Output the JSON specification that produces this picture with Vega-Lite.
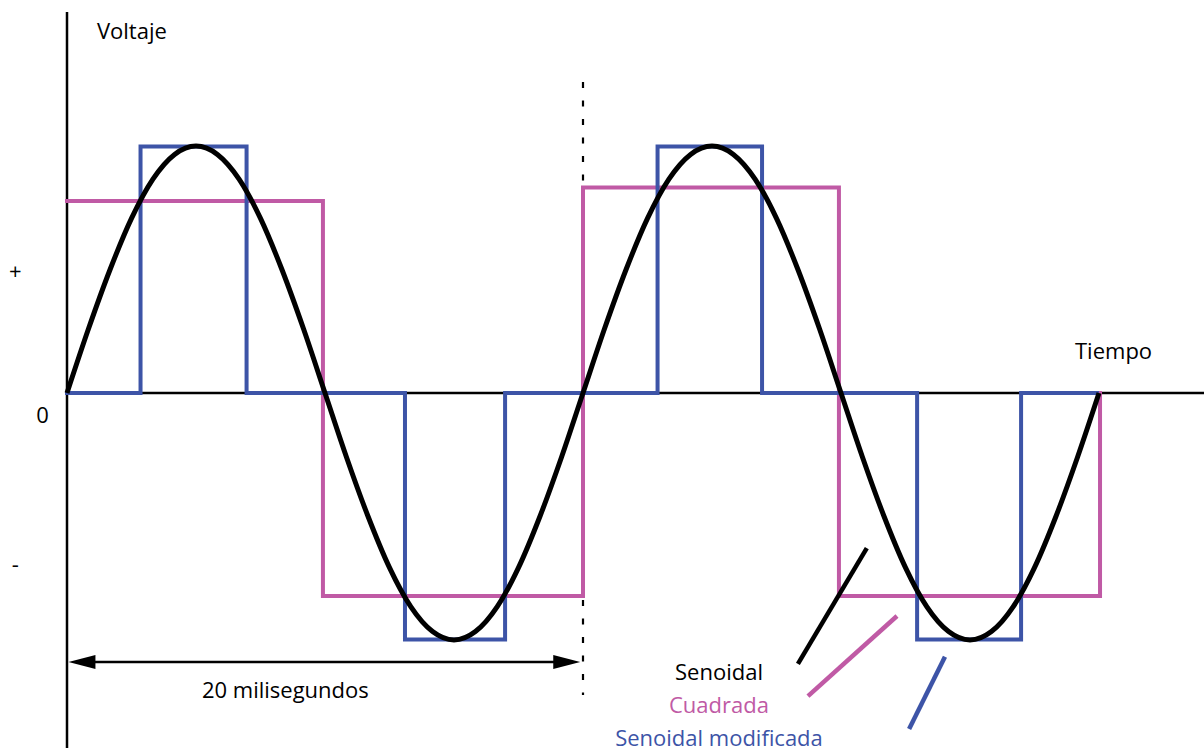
{
  "$schema": "https://vega.github.io/schema/vega-lite/v6.json",
  "width": 1204,
  "height": 751,
  "autosize": {"type": "none"},
  "padding": 0,
  "background": "#ffffff",
  "config": {"view": {"stroke": null}},
  "datasets": {
    "ejes": [
      {"eje": "vertical", "i": 0, "t": 0, "v": 1.5425},
      {"eje": "vertical", "i": 1, "t": 0, "v": -1.437},
      {"eje": "horizontal", "i": 0, "t": 0, "v": 0},
      {"eje": "horizontal", "i": 1, "t": 44.1, "v": 0},
      {"eje": "flecha", "i": 0, "t": 0.4, "v": -1.089},
      {"eje": "flecha", "i": 1, "t": 19.6, "v": -1.089}
    ],
    "periodo": [
      {"i": 0, "t": 20, "v": 1.259},
      {"i": 1, "t": 20, "v": -1.223}
    ],
    "puntas": [
      {"dir": "izq", "t": 0.58, "v": -1.089},
      {"dir": "der", "t": 19.37, "v": -1.089}
    ],
    "cuadradas": [
      {"serie": "Cuadrada", "i": 0, "t": 0, "v": 0.777},
      {"serie": "Cuadrada", "i": 1, "t": 9.92, "v": 0.777},
      {"serie": "Cuadrada", "i": 2, "t": 9.92, "v": -0.822},
      {"serie": "Cuadrada", "i": 3, "t": 20, "v": -0.822},
      {"serie": "Cuadrada", "i": 4, "t": 20, "v": 0.832},
      {"serie": "Cuadrada", "i": 5, "t": 29.92, "v": 0.832},
      {"serie": "Cuadrada", "i": 6, "t": 29.92, "v": -0.822},
      {"serie": "Cuadrada", "i": 7, "t": 40.04, "v": -0.822},
      {"serie": "Cuadrada", "i": 8, "t": 40.04, "v": 0},
      {"serie": "Senoidal modificada", "i": 0, "t": 0, "v": 0},
      {"serie": "Senoidal modificada", "i": 1, "t": 2.85, "v": 0},
      {"serie": "Senoidal modificada", "i": 2, "t": 2.85, "v": 0.998},
      {"serie": "Senoidal modificada", "i": 3, "t": 6.96, "v": 0.998},
      {"serie": "Senoidal modificada", "i": 4, "t": 6.96, "v": 0},
      {"serie": "Senoidal modificada", "i": 5, "t": 13.1, "v": 0},
      {"serie": "Senoidal modificada", "i": 6, "t": 13.1, "v": -0.998},
      {"serie": "Senoidal modificada", "i": 7, "t": 16.98, "v": -0.998},
      {"serie": "Senoidal modificada", "i": 8, "t": 16.98, "v": 0},
      {"serie": "Senoidal modificada", "i": 9, "t": 22.89, "v": 0},
      {"serie": "Senoidal modificada", "i": 10, "t": 22.89, "v": 0.998},
      {"serie": "Senoidal modificada", "i": 11, "t": 26.94, "v": 0.998},
      {"serie": "Senoidal modificada", "i": 12, "t": 26.94, "v": 0},
      {"serie": "Senoidal modificada", "i": 13, "t": 32.95, "v": 0},
      {"serie": "Senoidal modificada", "i": 14, "t": 32.95, "v": -0.998},
      {"serie": "Senoidal modificada", "i": 15, "t": 36.98, "v": -0.998},
      {"serie": "Senoidal modificada", "i": 16, "t": 36.98, "v": 0},
      {"serie": "Senoidal modificada", "i": 17, "t": 39.92, "v": 0}
    ],
    "seno": [
      {"serie": "Senoidal", "i": 0, "t": 0, "v": 0},
      {"serie": "Senoidal", "i": 1, "t": 0.83, "v": 0.259},
      {"serie": "Senoidal", "i": 2, "t": 1.67, "v": 0.5},
      {"serie": "Senoidal", "i": 3, "t": 2.5, "v": 0.707},
      {"serie": "Senoidal", "i": 4, "t": 3.33, "v": 0.866},
      {"serie": "Senoidal", "i": 5, "t": 4.17, "v": 0.966},
      {"serie": "Senoidal", "i": 6, "t": 5, "v": 1},
      {"serie": "Senoidal", "i": 7, "t": 5.83, "v": 0.966},
      {"serie": "Senoidal", "i": 8, "t": 6.67, "v": 0.866},
      {"serie": "Senoidal", "i": 9, "t": 7.5, "v": 0.707},
      {"serie": "Senoidal", "i": 10, "t": 8.33, "v": 0.5},
      {"serie": "Senoidal", "i": 11, "t": 9.17, "v": 0.259},
      {"serie": "Senoidal", "i": 12, "t": 10, "v": 0},
      {"serie": "Senoidal", "i": 13, "t": 10.83, "v": -0.259},
      {"serie": "Senoidal", "i": 14, "t": 11.67, "v": -0.5},
      {"serie": "Senoidal", "i": 15, "t": 12.5, "v": -0.707},
      {"serie": "Senoidal", "i": 16, "t": 13.33, "v": -0.866},
      {"serie": "Senoidal", "i": 17, "t": 14.17, "v": -0.966},
      {"serie": "Senoidal", "i": 18, "t": 15, "v": -1},
      {"serie": "Senoidal", "i": 19, "t": 15.83, "v": -0.966},
      {"serie": "Senoidal", "i": 20, "t": 16.67, "v": -0.866},
      {"serie": "Senoidal", "i": 21, "t": 17.5, "v": -0.707},
      {"serie": "Senoidal", "i": 22, "t": 18.33, "v": -0.5},
      {"serie": "Senoidal", "i": 23, "t": 19.17, "v": -0.259},
      {"serie": "Senoidal", "i": 24, "t": 20, "v": 0},
      {"serie": "Senoidal", "i": 25, "t": 20.83, "v": 0.259},
      {"serie": "Senoidal", "i": 26, "t": 21.67, "v": 0.5},
      {"serie": "Senoidal", "i": 27, "t": 22.5, "v": 0.707},
      {"serie": "Senoidal", "i": 28, "t": 23.33, "v": 0.866},
      {"serie": "Senoidal", "i": 29, "t": 24.17, "v": 0.966},
      {"serie": "Senoidal", "i": 30, "t": 25, "v": 1},
      {"serie": "Senoidal", "i": 31, "t": 25.83, "v": 0.966},
      {"serie": "Senoidal", "i": 32, "t": 26.67, "v": 0.866},
      {"serie": "Senoidal", "i": 33, "t": 27.5, "v": 0.707},
      {"serie": "Senoidal", "i": 34, "t": 28.33, "v": 0.5},
      {"serie": "Senoidal", "i": 35, "t": 29.17, "v": 0.259},
      {"serie": "Senoidal", "i": 36, "t": 30, "v": 0},
      {"serie": "Senoidal", "i": 37, "t": 30.83, "v": -0.259},
      {"serie": "Senoidal", "i": 38, "t": 31.67, "v": -0.5},
      {"serie": "Senoidal", "i": 39, "t": 32.5, "v": -0.707},
      {"serie": "Senoidal", "i": 40, "t": 33.33, "v": -0.866},
      {"serie": "Senoidal", "i": 41, "t": 34.17, "v": -0.966},
      {"serie": "Senoidal", "i": 42, "t": 35, "v": -1},
      {"serie": "Senoidal", "i": 43, "t": 35.83, "v": -0.966},
      {"serie": "Senoidal", "i": 44, "t": 36.67, "v": -0.866},
      {"serie": "Senoidal", "i": 45, "t": 37.5, "v": -0.707},
      {"serie": "Senoidal", "i": 46, "t": 38.33, "v": -0.5},
      {"serie": "Senoidal", "i": 47, "t": 39.17, "v": -0.259},
      {"serie": "Senoidal", "i": 48, "t": 40, "v": 0}
    ],
    "leyenda": [
      {"serie": "Senoidal", "i": 0, "t": 28.33, "v": -1.097},
      {"serie": "Senoidal", "i": 1, "t": 31.0, "v": -0.628},
      {"serie": "Cuadrada", "i": 0, "t": 28.72, "v": -1.227},
      {"serie": "Cuadrada", "i": 1, "t": 32.17, "v": -0.903},
      {"serie": "Senoidal modificada", "i": 0, "t": 32.64, "v": -1.360},
      {"serie": "Senoidal modificada", "i": 1, "t": 34.03, "v": -1.068}
    ],
    "rotulos": [
      {"texto": "Voltaje", "grupo": "izquierda", "t": 1.16, "v": 1.433},
      {"texto": "Tiempo", "grupo": "izquierda", "t": 39.07, "v": 0.138},
      {"texto": "20 milisegundos", "grupo": "izquierda", "t": 5.23, "v": -1.235},
      {"texto": "+", "grupo": "centro", "t": -2.0, "v": 0.462},
      {"texto": "0", "grupo": "centro", "t": -0.95, "v": -0.121},
      {"texto": "-", "grupo": "centro", "t": -2.0, "v": -0.725}
    ],
    "nombres": [
      {"serie": "Senoidal", "t": 25.27, "v": -1.162},
      {"serie": "Cuadrada", "t": 25.27, "v": -1.296},
      {"serie": "Senoidal modificada", "t": 25.27, "v": -1.429}
    ]
  },
  "encoding": {
    "x": {"field": "t", "type": "quantitative", "scale": {"domain": [-2.5969, 44.0698], "nice": false, "zero": false}, "axis": null},
    "y": {"field": "v", "type": "quantitative", "scale": {"domain": [-1.4494, 1.5911], "nice": false, "zero": false}, "axis": null}
  },
  "layer": [
    {
      "data": {"name": "ejes"},
      "mark": {"type": "line", "color": "#000000", "strokeWidth": 2.5, "strokeCap": "butt"},
      "encoding": {
        "detail": {"field": "eje"},
        "order": {"field": "i", "type": "quantitative"}
      }
    },
    {
      "data": {"name": "periodo"},
      "mark": {"type": "line", "color": "#000000", "strokeWidth": 2.2, "strokeDash": [6, 12.5], "strokeCap": "butt"},
      "encoding": {"order": {"field": "i", "type": "quantitative"}}
    },
    {
      "data": {"name": "puntas"},
      "mark": {"type": "point", "filled": true, "opacity": 1, "color": "#000000", "size": 729, "strokeWidth": 0},
      "encoding": {
        "shape": {"field": "dir", "type": "nominal", "legend": null, "scale": {"domain": ["izq", "der"], "range": ["M -1 0 L 1 -0.52 L 1 0.52 Z", "M 1 0 L -1 -0.52 L -1 0.52 Z"]}}
      }
    },
    {
      "data": {"name": "cuadradas"},
      "mark": {"type": "line", "strokeWidth": 4, "strokeJoin": "miter", "strokeCap": "square"},
      "encoding": {
        "color": {"field": "serie", "type": "nominal", "legend": null, "scale": {"domain": ["Senoidal", "Cuadrada", "Senoidal modificada"], "range": ["#000000", "#c05aa5", "#3d54a7"]}},
        "detail": {"field": "serie"},
        "order": {"field": "i", "type": "quantitative"}
      }
    },
    {
      "data": {"name": "seno"},
      "mark": {"type": "line", "strokeWidth": 5, "interpolate": "monotone", "strokeCap": "butt"},
      "encoding": {
        "color": {"field": "serie", "type": "nominal", "legend": null},
        "order": {"field": "i", "type": "quantitative"}
      }
    },
    {
      "data": {"name": "leyenda"},
      "mark": {"type": "line", "strokeWidth": 4.5, "strokeCap": "butt"},
      "encoding": {
        "color": {"field": "serie", "type": "nominal", "legend": null},
        "detail": {"field": "serie"},
        "order": {"field": "i", "type": "quantitative"}
      }
    },
    {
      "data": {"name": "rotulos"},
      "transform": [{"filter": "datum.grupo === 'izquierda'"}],
      "mark": {"type": "text", "font": "Open Sans", "fontSize": 22, "align": "left", "baseline": "alphabetic", "color": "#000000"},
      "encoding": {"text": {"field": "texto"}}
    },
    {
      "data": {"name": "rotulos"},
      "transform": [{"filter": "datum.grupo === 'centro'"}],
      "mark": {"type": "text", "font": "Open Sans", "fontSize": 22, "align": "center", "baseline": "alphabetic", "color": "#000000"},
      "encoding": {"text": {"field": "texto"}}
    },
    {
      "data": {"name": "nombres"},
      "mark": {"type": "text", "font": "Open Sans", "fontSize": 22, "align": "center", "baseline": "alphabetic"},
      "encoding": {
        "text": {"field": "serie"},
        "color": {"field": "serie", "type": "nominal", "legend": null}
      }
    }
  ]
}
